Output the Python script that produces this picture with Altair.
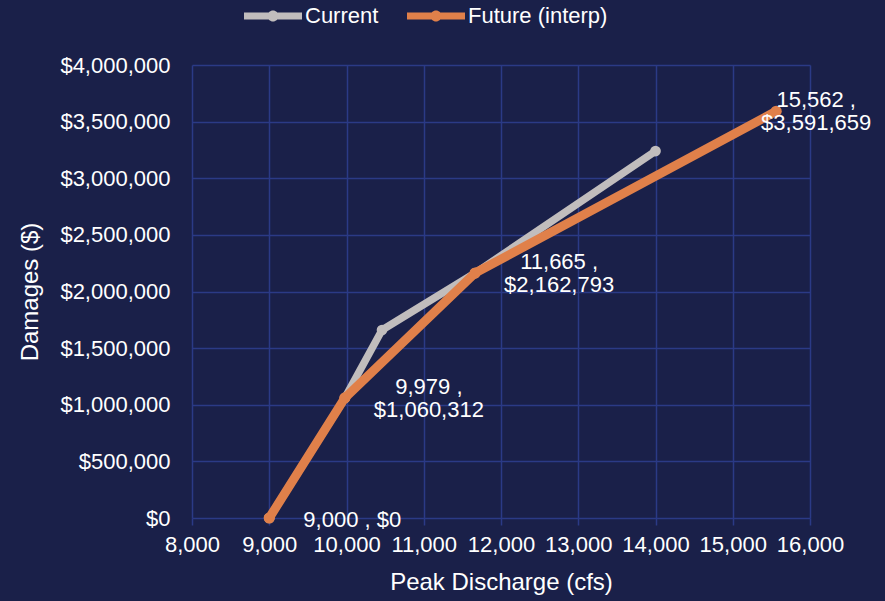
import altair as alt
import pandas as pd

# Stage–damage curves: peak discharge (cfs) vs. damages ($)
current_cfs = [9000, 9979, 10460, 11665, 14000]
current_damages = [0, 1060312, 1660000, 2162793, 3240000]

future_cfs = [9000, 9979, 11665, 15562]
future_damages = [0, 1060312, 2162793, 3591659]

series_names = ["Current", "Future (interp)"]
series_colors = ["#C1BDBD", "#E0804A"]
series_widths = [7.5, 9]

BG = "#1A2049"
GRID = "#2B3A86"
FONT = "Liberation Sans"

rows = []
for x, y in zip(current_cfs, current_damages):
    rows.append({"cfs": x, "damages": y, "series": series_names[0]})
for x, y in zip(future_cfs, future_damages):
    rows.append({"cfs": x, "damages": y, "series": series_names[1]})
df = pd.DataFrame(rows)

labels = []
for i, (x, y) in enumerate(zip(future_cfs, future_damages)):
    sep = " , " if i == 0 else " ,\n"
    labels.append({"cfs": x, "damages": y, "label": f"{x:,}{sep}${y:,}"})
lab = pd.DataFrame(labels)

x_enc = alt.X(
    "cfs:Q",
    scale=alt.Scale(domain=[8000, 16000], nice=False, zero=False),
    axis=alt.Axis(
        title="Peak Discharge (cfs)",
        values=list(range(8000, 16001, 1000)),
        format=",.0f",
        grid=True,
        ticks=True,
        tickSize=7,
        labelPadding=9,
        labelOverlap=False,
        labelBound=False,
        labelFlush=False,
        titlePadding=15,
    ),
)
y_enc = alt.Y(
    "damages:Q",
    scale=alt.Scale(domain=[0, 4000000], nice=False),
    axis=alt.Axis(
        title="Damages ($)",
        values=list(range(0, 4000001, 500000)),
        format="$,.0f",
        grid=True,
        ticks=False,
        labelPadding=22,
        labelOverlap=False,
        labelFlush=False,
        titlePadding=17,
    ),
)

symbol_path = (
    "M-1,-0.12H1V0.12H-1Z "
    "M0.19,0A0.19,0.19,0,1,1,-0.19,0A0.19,0.19,0,1,1,0.19,0Z"
)

color_enc = alt.Color(
    "series:N",
    scale=alt.Scale(domain=series_names, range=series_colors),
    legend=alt.Legend(
        title=None,
        orient="none",
        direction="horizontal",
        legendX=52,
        legendY=-78,
        symbolType=symbol_path,
        symbolSize=3364,
        symbolStrokeWidth=0,
        labelFontSize=22,
        labelColor="#FFFFFF",
        labelFont=FONT,
        labelOffset=3,
        columnPadding=28,
    ),
)

base = alt.Chart(df).encode(x=x_enc, y=y_enc, color=color_enc)


def series_line(i):
    # one line layer per series so each keeps its own stroke width
    return base.transform_filter(
        alt.datum.series == series_names[i]
    ).mark_line(strokeWidth=series_widths[i], strokeCap="round",
                strokeJoin="round")


line_current = series_line(0)
line_future = series_line(1)
points_current = base.transform_filter(
    alt.datum.series == series_names[0]
).mark_point(filled=True, size=115, opacity=1)
points_future = base.transform_filter(
    alt.datum.series == series_names[1]
).mark_point(filled=True, size=125, opacity=1)

text_base = alt.Chart(lab).encode(x="cfs:Q", y="damages:Q", text="label:N")
text_first = text_base.transform_filter("datum.cfs < 9500").mark_text(
    align="center", baseline="middle", dx=83, dy=2, fontSize=22,
    color="#FFFFFF", font=FONT,
)
text_mid = text_base.transform_filter(
    "datum.cfs >= 9500 && datum.cfs < 15000"
).mark_text(
    align="center", baseline="middle", dx=84, dy=-11, fontSize=22,
    lineHeight=23, lineBreak="\n", color="#FFFFFF", font=FONT,
)
text_last = text_base.transform_filter("datum.cfs >= 15000").mark_text(
    align="center", baseline="middle", dx=40, dy=-11, fontSize=22,
    lineHeight=23, lineBreak="\n", color="#FFFFFF", font=FONT,
)

chart = (
    alt.layer(line_current, points_current, line_future, points_future,
              text_first, text_mid, text_last)
    .properties(
        width=618,
        height=453,
        background=BG,
        autosize=alt.AutoSizeParams(type="none"),
        padding={"left": 192, "top": 65, "right": 75, "bottom": 83},
    )
    .configure_view(stroke=None, fill=BG)
    .configure_axis(
        domain=False,
        gridColor=GRID,
        gridWidth=1.5,
        gridOpacity=1,
        tickColor=GRID,
        tickWidth=1.5,
        labelColor="#FFFFFF",
        labelFontSize=22,
        labelFont=FONT,
        titleColor="#FFFFFF",
        titleFontSize=24,
        titleFont=FONT,
        titleFontWeight="normal",
    )
)

chart.save("out.html", embed_options={"renderer": "svg", "actions": False})
